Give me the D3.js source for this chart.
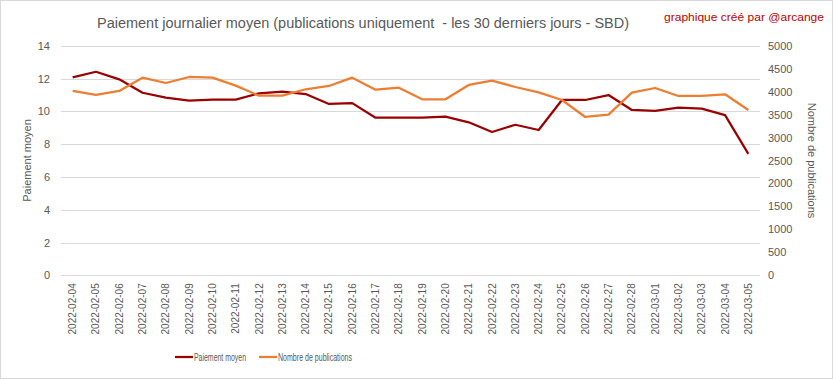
<!DOCTYPE html>
<html>
<head>
<meta charset="utf-8">
<script src="https://cdn.jsdelivr.net/npm/d3@7"></script>
<style>
  body { margin: 0; background: #fff; }
  svg text { font-family: "Liberation Sans", "DejaVu Sans", sans-serif; }
</style>
</head>
<body>
<div id="chart"></div>
<script>
  // data
  const dates = [
    '2022-02-04','2022-02-05','2022-02-06','2022-02-07','2022-02-08','2022-02-09',
    '2022-02-10','2022-02-11','2022-02-12','2022-02-13','2022-02-14','2022-02-15',
    '2022-02-16','2022-02-17','2022-02-18','2022-02-19','2022-02-20','2022-02-21',
    '2022-02-22','2022-02-23','2022-02-24','2022-02-25','2022-02-26','2022-02-27',
    '2022-02-28','2022-03-01','2022-03-02','2022-03-03','2022-03-04','2022-03-05'
  ];
  const paiement = [
    12.07, 12.41, 11.95, 11.13, 10.83, 10.65,
    10.71, 10.71, 11.10, 11.20, 11.05, 10.45,
    10.50, 9.61, 9.61, 9.61, 9.67, 9.33,
    8.74, 9.18, 8.86, 10.69, 10.69, 10.99,
    10.08, 10.02, 10.22, 10.16, 9.77, 7.40
  ];
  const publications = [
    4014, 3927, 4014, 4304, 4188, 4319,
    4304, 4130, 3912, 3912, 4051, 4123,
    4304, 4043, 4086, 3833, 3833, 4145,
    4239, 4101, 3985, 3818, 3448, 3498,
    3977, 4079, 3905, 3905, 3942, 3600
  ];
  const leftTicks = [0, 2, 4, 6, 8, 10, 12, 14];
  const rightTicks = [0, 500, 1000, 1500, 2000, 2500, 3000, 3500, 4000, 4500, 5000];

  const width = 833, height = 379;
  const margin = { top: 45.7, right: 73, bottom: 103.7, left: 61 };
  const red = '#9b0000', orange = '#ed7d31', grey = '#595959';

  const svg = d3.select('#chart').append('svg')
    .attr('width', width)
    .attr('height', height);

  svg.append('rect')
    .attr('x', 0.5).attr('y', 0.5)
    .attr('width', width - 1).attr('height', height - 1)
    .attr('fill', '#fff')
    .attr('stroke', '#d9d9d9');

  const x = d3.scaleBand()
    .domain(dates)
    .range([margin.left, width - margin.right]);

  const yL = d3.scaleLinear()
    .domain([0, 14])
    .range([height - margin.bottom, margin.top]);

  const yR = d3.scaleLinear()
    .domain([0, 5000])
    .range([height - margin.bottom, margin.top]);

  // gridlines
  svg.append('g')
    .selectAll('line')
    .data(leftTicks)
    .join('line')
    .attr('x1', margin.left)
    .attr('x2', width - margin.right)
    .attr('y1', d => Math.round(yL(d)) + 0.5)
    .attr('y2', d => Math.round(yL(d)) + 0.5)
    .attr('stroke', '#d9d9d9');

  // left axis
  const axL = svg.append('g')
    .attr('transform', `translate(${margin.left - 11},0)`)
    .call(d3.axisLeft(yL).tickValues(leftTicks).tickSize(0).tickPadding(0));
  axL.select('.domain').remove();
  axL.selectAll('text').attr('fill', grey).style('font-size', '11px');

  // right axis
  const axR = svg.append('g')
    .attr('transform', `translate(${width - margin.right + 8},0)`)
    .call(d3.axisRight(yR).tickValues(rightTicks).tickFormat(d3.format('d')).tickSize(0).tickPadding(0));
  axR.select('.domain').remove();
  axR.selectAll('text').attr('fill', grey).style('font-size', '11px');

  // x axis
  const axX = svg.append('g')
    .attr('transform', `translate(0,${height - margin.bottom})`)
    .call(d3.axisBottom(x).tickSize(0).tickPadding(0));
  axX.select('.domain').remove();
  axX.selectAll('text')
    .attr('fill', grey)
    .style('font-size', '10px')
    .attr('transform', 'rotate(-90)')
    .attr('text-anchor', 'end')
    .attr('x', -8)
    .attr('y', 0)
    .attr('dy', '0.35em');

  // lines
  const lineL = d3.line()
    .x((d, i) => x(dates[i]) + x.bandwidth() / 2)
    .y(d => yL(d));
  const lineR = d3.line()
    .x((d, i) => x(dates[i]) + x.bandwidth() / 2)
    .y(d => yR(d));

  svg.append('path')
    .datum(paiement)
    .attr('d', lineL)
    .attr('fill', 'none')
    .attr('stroke', red)
    .attr('stroke-width', 2.25)
    .attr('stroke-linejoin', 'round');

  svg.append('path')
    .datum(publications)
    .attr('d', lineR)
    .attr('fill', 'none')
    .attr('stroke', orange)
    .attr('stroke-width', 2.25)
    .attr('stroke-linejoin', 'round');

  // axis titles
  svg.append('text')
    .attr('transform', `translate(31,${(margin.top + height - margin.bottom) / 2}) rotate(-90)`)
    .attr('text-anchor', 'middle')
    .attr('fill', grey)
    .style('font-size', '11px')
    .text('Paiement moyen');

  svg.append('text')
    .attr('transform', `translate(808,${(margin.top + height - margin.bottom) / 2}) rotate(90)`)
    .attr('text-anchor', 'middle')
    .attr('fill', grey)
    .style('font-size', '11px')
    .text('Nombre de publications');

  // titles
  svg.append('text')
    .attr('x', 363)
    .attr('y', 28)
    .attr('text-anchor', 'middle')
    .attr('fill', grey)
    .attr('textLength', 532)
    .attr('lengthAdjust', 'spacingAndGlyphs')
    .style('font-size', '14px')
    .style('white-space', 'pre')
    .text('Paiement journalier moyen (publications uniquement  - les 30 derniers jours - SBD)');

  svg.append('text')
    .attr('x', 824)
    .attr('y', 21)
    .attr('text-anchor', 'end')
    .attr('fill', '#c00000')
    .attr('textLength', 160)
    .attr('lengthAdjust', 'spacingAndGlyphs')
    .style('font-size', '11px')
    .text('graphique créé par @arcange');

  // legend
  const legend = [
    { name: 'Paiement moyen', color: red, x: 175, w: 52 },
    { name: 'Nombre de publications', color: orange, x: 259, w: 74 }
  ];
  const lg = svg.append('g').attr('transform', 'translate(0,357)');
  legend.forEach(l => {
    lg.append('line')
      .attr('x1', l.x).attr('x2', l.x + 18)
      .attr('y1', 0).attr('y2', 0)
      .attr('stroke', l.color)
      .attr('stroke-width', 2.25);
    lg.append('text')
      .attr('x', l.x + 19)
      .attr('y', 0)
      .attr('dy', '0.35em')
      .attr('fill', grey)
      .attr('textLength', l.w)
      .attr('lengthAdjust', 'spacingAndGlyphs')
      .style('font-size', '11px')
      .text(l.name);
  });
</script>
</body>
</html>
